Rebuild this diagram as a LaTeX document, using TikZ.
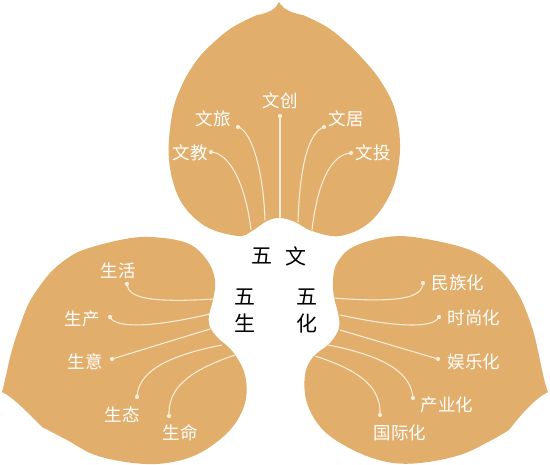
\documentclass[tikz,border=0pt]{standalone}
\usepackage{fontspec}
\newfontfamily\cjk{Noto Sans CJK SC}
\definecolor{petal}{RGB}{226,174,108}
\definecolor{vein}{RGB}{250,238,218}
\tikzset{
  petalfill/.style={fill=petal, draw=none},
  veinline/.style={draw=vein, line width=1.05pt},
  dotnode/.style={circle, fill=vein, inner sep=0pt, minimum size=4.2pt},
  lbl/.style={text=white, font=\cjk\fontsize{17.5}{17.5}\selectfont, inner sep=0pt},
  core/.style={text=black, font=\cjk\fontsize{21}{27}\selectfont, inner sep=0pt, align=center}
}
\begin{document}
\begin{tikzpicture}[x=1pt,y=-1pt]
\useasboundingbox (0,0) rectangle (550,465);
% top petal
\fill[petalfill] (279,2) .. controls (276,9) and (269,13) .. (257,15)
  -- plot[smooth, tension=0.6] coordinates {(257,15) (233,27) (213,43) (197,60) (182,85) (172,115) (169,160) (180,200) (205,226) (238,236) (252,231) (267,221) (280,218) (295,222) (312,231) (340,236) (370,222) (392,190) (400,150) (395,110) (380,80) (362,58) (347,43) (327,27) (303,15)}
  .. controls (291,13) and (283,9) .. (279,2) -- cycle;
% left petal
\fill[petalfill] (2,392) .. controls (6,378) and (9,358) .. (15,340)
  -- plot[smooth, tension=0.6] coordinates {(15,340) (27,307) (37,290) (50,273) (65,260) (83,250) (120,240) (150,237) (187,243) (207,260) (215,280) (213,300) (209,315) (210,327) (218,338) (233,352) (245,375) (245,403) (230,430) (200,453) (167,463) (133,463) (95,455) (67,440) (42,427)}
  .. controls (27,412) and (14,398) .. (2,392) -- cycle;
% right petal
\fill[petalfill] (548,392) .. controls (543,380) and (540,356) .. (533,330)
  -- plot[smooth, tension=0.6] coordinates {(533,330) (520,297) (500,270) (470,250) (420,238) (387,237) (353,247) (337,263) (333,280) (334,297) (338,313) (339,328) (330,343) (313,357) (305,375) (307,403) (323,430) (353,450) (387,462) (420,463) (460,455) (490,441) (509,430)}
  .. controls (522,413) and (536,398) .. (548,392) -- cycle;

% ---- top petal labels
\node[dotnode] (dc) at (280,116) {};
\node[dotnode] (dl) at (238,127) {};
\node[dotnode] (dj) at (211,152) {};
\node[dotnode] (dq) at (324,127) {};
\node[dotnode] (dt) at (351,153) {};
\coordinate (ec) at (280,218);
\coordinate (el) at (265,220);
\coordinate (ej) at (251,230);
\coordinate (eq) at (298,222);
\coordinate (et) at (312,230);
\draw[veinline] (dc) -- (ec);
\draw[veinline] (dl.center) .. controls (250,130) and (263,165) .. (el);
\draw[veinline] (dj.center) .. controls (228,153) and (245,180) .. (ej);
\draw[veinline] (dq.center) .. controls (310,132) and (300,160) .. (eq);
\draw[veinline] (dt.center) .. controls (333,154) and (318,178) .. (et);
\node[lbl] (tc) at (280,101) {文创};
\node[lbl] (tl) at (213,119) {文旅};
\node[lbl] (tj) at (190,153) {文教};
\node[lbl] (tq) at (346,119) {文居};
\node[lbl] (tt) at (373,153) {文投};

% ---- left petal labels
\node[dotnode] (sh) at (127,284) {};
\node[dotnode] (sc) at (110,317) {};
\node[dotnode] (sy) at (112,359) {};
\node[dotnode] (st) at (137,397) {};
\node[dotnode] (sm) at (169,416) {};
\coordinate (fh) at (215,299);
\coordinate (fc) at (210,314);
\coordinate (fy) at (210,329);
\coordinate (ft) at (222,345);
\coordinate (fm) at (235,355);
\draw[veinline] (sh.center) .. controls (128,298) and (150,303) .. (fh);
\draw[veinline] (sc.center) .. controls (115,328) and (150,328) .. (fc);
\draw[veinline] (sy) -- (fy);
\draw[veinline] (st.center) .. controls (138,375) and (160,357) .. (ft);
\draw[veinline] (sm.center) .. controls (168,390) and (185,372) .. (fm);
\node[lbl] (lh) at (118,271) {生活};
\node[lbl] (lc) at (82,319) {生产};
\node[lbl] (ly) at (85,362) {生意};
\node[lbl] (lt) at (122,415) {生态};
\node[lbl] (lm) at (180,433) {生命};

% ---- right petal labels
\node[dotnode] (hm) at (423,283) {};
\node[dotnode] (hs) at (439,317) {};
\node[dotnode] (hy) at (438,359) {};
\node[dotnode] (hc) at (413,398) {};
\node[dotnode] (hg) at (380,415) {};
\coordinate (gm) at (333,298);
\coordinate (gs) at (340,315);
\coordinate (gy) at (340,330);
\coordinate (gc) at (328,345);
\coordinate (gg) at (315,356);
\draw[veinline] (hm.center) .. controls (422,298) and (400,303) .. (gm);
\draw[veinline] (hs.center) .. controls (434,328) and (400,328) .. (gs);
\draw[veinline] (hy) -- (gy);
\draw[veinline] (hc.center) .. controls (411,375) and (390,357) .. (gc);
\draw[veinline] (hg.center) .. controls (381,390) and (365,372) .. (gg);
\node[lbl] (rm) at (458,283) {民族化};
\node[lbl] (rs) at (474,318) {时尚化};
\node[lbl] (ry) at (474,362) {娱乐化};
\node[lbl] (rc) at (447,405) {产业化};
\node[lbl] (rg) at (400,433) {国际化};

% ---- core texts
\node[core] (c1) at (262,256) {五};
\node[core] (c2) at (296,256) {文};
\node[core] (c3) at (245,311) {五\\生};
\node[core] (c4) at (307,311) {五\\化};
\end{tikzpicture}
\end{document}
